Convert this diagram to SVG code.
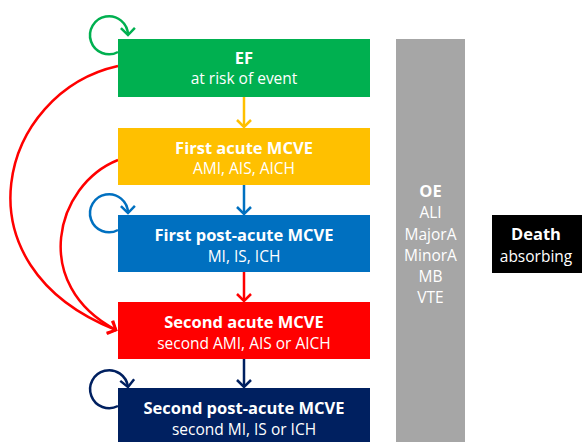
<svg xmlns="http://www.w3.org/2000/svg" width="582" height="442" viewBox="0 0 582 442">
<style>
.t{font-family:"Open Sans","Liberation Sans",sans-serif;fill:#fff;text-anchor:middle}
.b{font-weight:bold;font-size:16.5px}
.n{font-size:15.5px}
.c{fill:none;stroke-width:2.5}
.h{fill:none;stroke-width:2.5}
</style>
<defs>
<marker id="mg" refX="7" refY="7" markerWidth="14" markerHeight="14" orient="auto" markerUnits="userSpaceOnUse" overflow="visible"><path class="h" d="M0,0 L7,7 L0,14" stroke="#00B050"/></marker>
<marker id="my" refX="7" refY="7" markerWidth="14" markerHeight="14" orient="auto" markerUnits="userSpaceOnUse" overflow="visible"><path class="h" d="M0,0 L7,7 L0,14" stroke="#FFC000"/></marker>
<marker id="mb" refX="7" refY="7" markerWidth="14" markerHeight="14" orient="auto" markerUnits="userSpaceOnUse" overflow="visible"><path class="h" d="M0,0 L7,7 L0,14" stroke="#0070C0"/></marker>
<marker id="mr" refX="7" refY="7" markerWidth="14" markerHeight="14" orient="auto" markerUnits="userSpaceOnUse" overflow="visible"><path class="h" d="M0,0 L7,7 L0,14" stroke="#FF0000"/></marker>
<marker id="mn" refX="7" refY="7" markerWidth="14" markerHeight="14" orient="auto" markerUnits="userSpaceOnUse" overflow="visible"><path class="h" d="M0,0 L7,7 L0,14" stroke="#002060"/></marker>
</defs>
<rect width="582" height="442" fill="#fff"/>
<g id="connectors">
<path class="c" stroke="#00B050" d="M118,52 A19,19 0 1 1 128,35" marker-end="url(#mg)"/>
<path class="c" stroke="#0070C0" d="M118,230 A19,19 0 1 1 128,213" marker-end="url(#mb)"/>
<path class="c" stroke="#002060" d="M118,406 A19,19 0 1 1 128,387" marker-end="url(#mn)"/>
<path class="c" stroke="#FFC000" d="M244,97 V127" marker-end="url(#my)"/>
<path class="c" stroke="#0070C0" d="M244,185 V214" marker-end="url(#mb)"/>
<path class="c" stroke="#FF0000" d="M244,272 V301" marker-end="url(#mr)"/>
<path class="c" stroke="#002060" d="M244,359 V387" marker-end="url(#mn)"/>
<path class="c" stroke="#FF0000" d="M118,66 C0,92 -48,265 116,330" marker-end="url(#mr)"/>
<path class="c" stroke="#FF0000" d="M118,160 C55,185 30,285 116,330" marker-end="url(#mr)"/>
</g>
<g id="EF"><rect x="118" y="39" width="252" height="58" fill="#00B050"/><text class="t b" x="244" y="64">EF</text><text class="t n" x="244" y="84">at risk of event</text></g>
<g id="first-acute"><rect x="118" y="128" width="252" height="57" fill="#FFC000"/><text class="t b" x="244" y="154">First acute MCVE</text><text class="t n" x="244" y="174">AMI, AIS, AICH</text></g>
<g id="first-post-acute"><rect x="118" y="215" width="252" height="57" fill="#0070C0"/><text class="t b" x="244" y="241">First post-acute MCVE</text><text class="t n" x="244" y="262">MI, IS, ICH</text></g>
<g id="second-acute"><rect x="118" y="302" width="252" height="57" fill="#FF0000"/><text class="t b" x="244" y="328">Second acute MCVE</text><text class="t n" x="244" y="349">second AMI, AIS or AICH</text></g>
<g id="second-post-acute"><rect x="118" y="388" width="252" height="60" fill="#002060"/><text class="t b" x="244" y="414">Second post-acute MCVE</text><text class="t n" x="244" y="435">second MI, IS or ICH</text></g>
<g id="OE"><rect x="396" y="39" width="69" height="410" fill="#A6A6A6"/><text class="t b" x="430.5" y="197">OE</text><text class="t n" x="430.5" y="218">ALI</text><text class="t n" x="430.5" y="240">MajorA</text><text class="t n" x="430.5" y="261">MinorA</text><text class="t n" x="430.5" y="282">MB</text><text class="t n" x="430.5" y="303">VTE</text></g>
<g id="Death"><rect x="492" y="215" width="95" height="58" fill="#000"/><text class="t b" x="536" y="240">Death</text><text class="t n" x="536" y="262">absorbing</text></g>
</svg>
